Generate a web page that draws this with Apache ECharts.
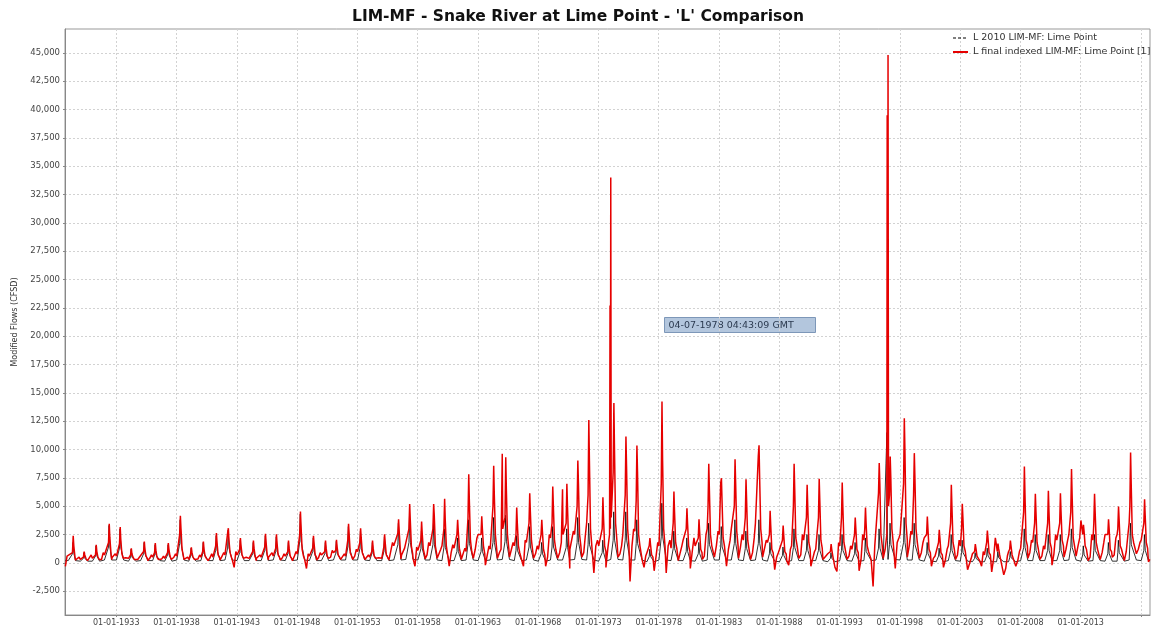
<!DOCTYPE html>
<html><head><meta charset="utf-8">
<script src="https://cdn.jsdelivr.net/npm/echarts@6/dist/echarts.min.js"></script>
<style>html,body{margin:0;padding:0;background:#fff}#c{width:1156px;height:632px}</style>
</head><body><div id="c"></div>
<script>
// ---- data (water years 1929..2018, values in CFSD) ----
const firstYear = 1929;
const peakFrac = [
 .43,.34,.34,.42,.33,.25,.33,.24,.32,.32,
 .23,.23,.31,.30,.30,.38,.38,.29,.29,.28,
 .36,.36,.27,.27,.27,.26,.26,.42,.34,.33,
 .33,.24,.32,.24,.32,.31,.31,.22,.30,.30,
 .21,.38,.29,.20,.37,.28,.28,.19,.27,.27,
 .26,.34,.34,.15,.20,.33,.24,.32,.24,.32,
 .23,.31,.31,.30,.22,.30,.15,.29,.20,.37,
 .20,.28,.27,.27,.18,.26,.26,.14,.17,.33,
 .24,.32,.32,.24,.23,.15,.31,.14,.14,.30];
const redPeak = [
 2380,1000,1590,3440,3150,1290,1880,1740,1740,4150,
 1380,1880,2620,3060,2180,1970,2560,2530,1970,4530,
 2380,1970,2030,3440,3060,1970,2530,3850,5200,3650,
 5200,5650,3800,7820,4100,8560,9320,4880,6150,3800,
 6740,6970,9030,12600,5790,14100,11150,10350,2180,14240,
 6300,4820,3850,8740,7470,9150,7380,10380,4590,3290,
 8740,6880,7410,1650,7090,4000,4880,8800,9380,12760,
 9680,4090,2910,6880,5210,1650,2850,1700,1970,8500,
 6090,6350,6150,8290,3350,6090,3850,4970,9740,5620];
const redPre = [
 900,500,700,1800,1700,700,1000,900,900,2500,
 800,1000,1500,2620,1200,1000,1400,1300,1000,2500,
 1300,1000,1100,2000,1800,1000,1400,2620,3000,2000,
 3000,3000,2500,4000,2500,5000,4000,2500,3500,2500,
 3500,3500,5000,6000,3000,8000,6000,5500,1500,7000,
 3500,3000,2200,5000,7030,5000,4000,9440,2500,2000,
 5000,4000,4000,1000,4000,2500,3000,6150,6000,7000,
 6000,2500,1800,3500,3000,1000,1800,1000,1200,4500,
 3500,3500,3500,4500,2500,3500,2500,3000,5000,3500];
const redPost = [
 1500,700,1000,2200,2000,800,1200,1100,1200,3000,
 900,1200,1800,2000,1500,1300,1800,1700,1300,3200,
 1700,1300,1400,2500,2200,1300,1800,2800,3800,2600,
 4200,3800,2800,5500,3000,6000,6500,3500,4500,2800,
 5000,5000,7000,9000,4000,10000,8500,8000,1600,9000,
 4500,3500,2800,6500,5500,7000,5500,7500,3300,2400,
 6500,5000,5500,1200,5000,3000,3500,7000,7500,10000,
 7500,3000,2200,5000,4000,1300,2200,1300,1500,6000,
 4500,4500,4500,6000,2800,4500,3000,3800,7000,4200];
const redRecess = [
 600,400,500,900,800,500,600,500,600,1200,
 500,600,700,900,700,600,700,700,600,1200,
 700,600,700,900,900,600,700,1200,1500,1200,
 1500,1500,1300,2000,1500,2500,2500,1500,2000,1200,
 2000,2000,2500,3000,1500,3500,3000,2500,700,3000,
 1800,1500,1200,2500,2200,2800,2000,3000,1200,1000,
 2200,1800,2000,600,1800,1200,1500,2500,3000,3500,
 3000,1200,900,1800,1500,600,900,700,700,2000,
 1800,1800,2000,2200,1500,1800,1200,1500,2500,1800];
const redSummer = [
 400,300,300,500,400,300,400,300,300,600,
 300,400,500,500,400,400,500,500,400,600,
 500,400,500,600,600,400,500,700,800,700,
 800,700,700,1000,800,1200,1300,900,1000,700,
 1200,1200,1500,1500,1000,2000,1500,1500,500,1500,
 1200,1000,900,1500,1500,1500,1200,1800,900,800,
 1500,1200,1300,500,1200,900,1000,1500,1800,2000,
 1800,900,700,1200,1000,500,700,600,600,1500,
 1200,1300,1500,1500,1200,1200,1000,1200,1800,1300];
const redLow = [
 250,200,150,300,250,150,200,200,150,300,
 150,200,250,300,250,200,250,250,200,350,
 250,250,300,300,300,250,250,350,400,350,
 400,-300,300,400,-200,400,500,300,400,-300,
 400,-500,500,-900,-400,500,-1650,300,-700,-900,
 200,-500,300,500,-300,400,300,500,-600,200,
 400,-300,300,-400,300,-700,300,400,-500,500,
 400,-300,-400,300,-600,200,-800,-1060,-300,400,
 300,-200,500,600,200,300,500,200,800,100];
const redFall = [
 -300,400,350,300,500,450,300,400,350,500,
 400,350,450,600,-400,500,400,550,450,600,
 -500,450,500,400,600,350,450,400,600,-300,
 700,500,900,400,1200,-200,900,600,-300,800,
 500,900,1200,900,1500,1300,800,1500,-400,600,
 1500,300,1000,600,1500,1200,1400,900,1300,500,
 -200,700,400,500,-760,600,300,-2090,1200,1800,
 1500,900,400,300,700,-600,-300,400,-500,200,
 900,600,800,1200,1500,500,900,700,1000,1200];
const redAutumn = [
 600,500,700,900,800,600,500,700,600,800,
 500,700,800,900,1000,600,700,900,800,1000,
 800,900,1100,800,1200,700,600,1800,1300,1400,
 1800,1200,1600,1300,2200,1500,1200,1800,2000,1500,
 2500,1800,2800,2500,2000,2500,1500,3000,600,1800,
 2000,1500,2200,2500,2800,2000,2500,2200,2000,900,
 1200,2500,1000,600,1800,1500,2500,1500,2500,2200,
 2800,1800,600,1200,2000,400,1000,2200,600,1000,
 2000,1500,2500,2000,2200,2500,1800,2200,2500,1800];
const redWinter = [
 500,300,400,700,600,400,350,500,400,600,
 300,500,500,700,700,400,500,600,600,800,
 600,700,900,600,1000,500,400,1500,1200,1100,
 1500,1500,1300,1000,2500,1200,9620,1500,1800,1200,
 2200,6500,2500,3500,1500,34000,2500,2800,900,1500,
 1300,2000,1500,3000,2500,3000,2000,3500,1800,1200,
 1500,2000,1200,800,1500,1200,2000,3000,44800,2500,
 2500,2200,1000,1500,1500,800,700,1500,1000,1300,
 1800,1200,2000,2500,3740,2000,2500,2500,3500,2000];
const redExtraTime  = [1965.06, 1970.06, 1973.96, 1973.99, 1974.06, 1996.95, 1996.98, 1997.00, 1997.06, 2018.74];
const redExtraValue = [3000,    2500,    22700,   3000,    4000,    39500,   9500,    18300,   5000,    300];

const blackPeak = [
 1800,900,1500,3300,3000,1200,1800,1600,1600,3800,
 1300,1800,2400,2900,2000,1800,2400,2300,1800,4300,
 2200,1800,1900,3200,2800,1800,2300,3500,4100,2800,
 3500,3000,2200,3800,2200,4000,4200,2400,3200,1800,
 3200,3000,4000,3500,2000,4500,4500,3800,1200,5260,
 2800,2200,1800,3500,3200,3800,2800,3800,1800,1400,
 3000,2500,2500,900,2500,1800,2200,3000,3500,4000,
 3500,1800,1300,2500,2000,900,1300,1000,1000,3000,
 2500,2500,2500,3000,1500,2500,1800,2000,3500,2500];
const blackRise = [
 800,400,600,1400,1300,500,800,700,700,1700,
 600,800,1100,1300,900,800,1100,1000,800,1900,
 1000,800,850,1400,1250,800,1000,1600,1800,1250,
 1600,1350,1000,1700,1000,1800,1900,1100,1400,800,
 1400,1350,1800,1600,900,2000,2000,1700,550,2300,
 1250,1000,800,1600,1400,1700,1250,1700,800,650,
 1350,1100,1100,400,1100,800,1000,1300,1600,1800,
 1600,800,600,1100,900,400,600,450,450,1350,
 1100,1100,1100,1350,700,1100,800,900,1600,1100];
const blackLow = [
 200,150,150,250,250,150,200,200,150,250,
 150,200,200,250,200,200,200,250,200,250,
 200,200,250,250,250,200,200,250,300,250,
 250,200,200,250,200,250,300,200,250,150,
 250,250,300,250,150,300,250,250,100,250,
 200,200,150,250,250,250,200,250,150,100,
 200,200,200,100,200,150,200,250,300,250,
 250,150,100,200,150,100,100,100,100,200,
 200,200,200,250,150,200,150,150,250,200];
const blackExtraTime  = [1996.85, 1996.93, 1996.97, 2018.74];
const blackExtraValue = [8800,    11500,   2000,    200];

const yTicks = [-2500,0,2500,5000,7500,10000,12500,15000,17500,20000,22500,25000,27500,30000,32500,35000,37500,40000,42500,45000];
const xTickYears  = [1933,1938,1943,1948,1953,1958,1963,1968,1973,1978,1983,1988,1993,1998,2003,2008,2013,2018];
const xLabelYears = [1933,1938,1943,1948,1953,1958,1963,1968,1973,1978,1983,1988,1993,1998,2003,2008,2013];

const seriesNames = ['L 2010 LIM-MF: Lime Point', 'L final indexed LIM-MF: Lime Point [1]'];
const titleText = "LIM-MF - Snake River at Lime Point - 'L' Comparison";
const cursorText = '04-07-1978 04:43:09 GMT';

// ---- build point lists ----
const redData = [], blackData = [];
for (let i = 0; i < peakFrac.length; i++) {
  const y = firstYear + i, f = peakFrac[i];
  redData.push([y - 0.22, redFall[i]], [y - 0.08, redAutumn[i]], [y + 0.02, redWinter[i]],
               [y + f - 0.06, redPre[i]], [y + f, redPeak[i]], [y + f + 0.05, redPost[i]],
               [y + f + 0.14, redRecess[i]], [y + f + 0.25, redSummer[i]], [y + 0.62, redLow[i]]);
  blackData.push([y - 0.22, blackLow[i]], [y + 0.02, blackLow[i]], [y + f - 0.06, blackRise[i]],
                 [y + f - 0.015, blackPeak[i]], [y + f + 0.06, blackRise[i]], [y + 0.62, blackLow[i]]);
}
redExtraTime.forEach((t, k) => redData.push([t, redExtraValue[k]]));
blackExtraTime.forEach((t, k) => blackData.push([t, blackExtraValue[k]]));
redData.sort((a, b) => a[0] - b[0]);
blackData.sort((a, b) => a[0] - b[0]);

const FONT = 'DejaVu Sans';
const chart = echarts.init(document.getElementById('c'), null, {renderer: 'canvas'});
chart.setOption({
  animation: false,
  backgroundColor: '#ffffff',
  title: {text: titleText, left: 'center', top: 4,
    textStyle: {fontFamily: FONT, fontSize: 15.5, fontWeight: 'bold', color: '#111'}},
  legend: {orient: 'vertical', left: 952, top: 33, padding: 0, itemGap: 4,
    itemWidth: 15, itemHeight: 9,
    itemStyle: {opacity: 0},
    textStyle: {fontFamily: FONT, fontSize: 9.5, color: '#333'},
    data: [{name: seriesNames[0], itemStyle: {opacity: 0}, lineStyle: {type: [3, 2], width: 1, color: '#000'}},
           {name: seriesNames[1], itemStyle: {opacity: 0}, lineStyle: {width: 2}}]},
  grid: {left: 65, right: 6, top: 29, bottom: 17, show: true, borderColor: '#999', borderWidth: 1},
  xAxis: {type: 'value', min: 1928.75, max: 2018.75,
    axisLine: {show: true, onZero: false, lineStyle: {color: '#888'}},
    axisTick: {show: true, customValues: xTickYears, length: 2, lineStyle: {color: '#888'}},
    axisLabel: {customValues: xLabelYears, formatter: v => '01-01-' + Math.round(v),
      fontFamily: FONT, fontSize: 8, color: '#444', margin: 4},
    splitLine: {show: true, lineStyle: {color: '#d2d2d2', type: [2, 2], width: 1}}},
  yAxis: {type: 'value', min: -4600, max: 47100,
    name: 'Modified Flows (CFSD)', nameLocation: 'middle', nameGap: 44,
    nameTextStyle: {fontFamily: FONT, fontSize: 8, color: '#333'},
    axisLine: {show: true, lineStyle: {color: '#888'}},
    axisTick: {show: true, customValues: yTicks, length: 2, lineStyle: {color: '#888'}},
    axisLabel: {customValues: yTicks, formatter: v => Number(v).toLocaleString('en-US'),
      fontFamily: FONT, fontSize: 8.5, color: '#444', margin: 5},
    splitLine: {show: true, lineStyle: {color: '#d2d2d2', type: [2, 2], width: 1}}},
  series: [
    {name: seriesNames[0], type: 'line', data: blackData, symbol: 'none', showSymbol: false,
     lineStyle: {color: '#000', width: 0.8}, itemStyle: {color: '#000'}, z: 2},
    {name: seriesNames[1], type: 'line', data: redData, symbol: 'none', showSymbol: false,
     lineStyle: {color: '#e60000', width: 1.5}, itemStyle: {color: '#e60000'}, z: 3}
  ],
  graphic: [{type: 'group', left: 664, top: 317, z: 100, children: [
    {type: 'rect', shape: {x: 0, y: 0, width: 151, height: 15},
     style: {fill: '#b3c6dd', stroke: '#7d97b8', lineWidth: 1}},
    {type: 'text', style: {x: 4, y: 8, text: cursorText, fill: '#2b3a50',
      font: '9.5px "DejaVu Sans"', verticalAlign: 'middle', textVerticalAlign: 'middle'}}
  ]}]
});
</script>
</body></html>
